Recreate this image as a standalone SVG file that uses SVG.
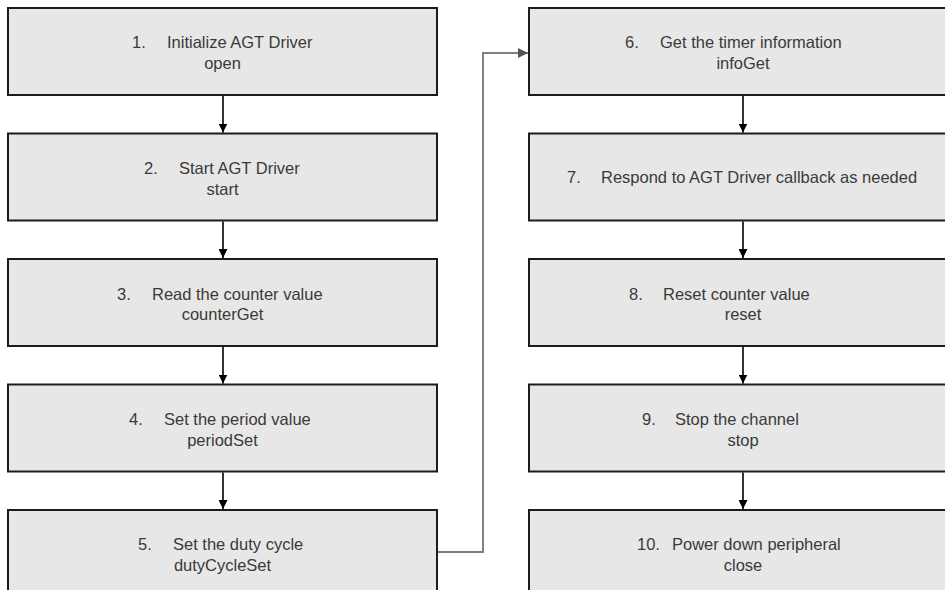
<svg xmlns="http://www.w3.org/2000/svg" width="945" height="590" viewBox="0 0 945 590">
  <style>
    .box { fill: #e7e7e7; stroke: #1c1c1c; stroke-width: 2; }
    .t { font-family: "Liberation Sans", Arial, sans-serif; font-size: 16.5px; fill: #3a3a3a; }
    .c { text-anchor: middle; }
    .flow { stroke: #000; stroke-width: 1.6; fill: none; }
    .jump { stroke: #808080; stroke-width: 2; fill: none; }
  </style>
  <defs>
    <marker id="ah" viewBox="0 0 10 10" refX="10" refY="5" markerWidth="9" markerHeight="9" markerUnits="userSpaceOnUse" orient="auto">
      <path d="M0,0 L10,5 L0,10 Z" fill="#000"/>
    </marker>
    <marker id="ahg" viewBox="0 0 10 10" refX="10" refY="5" markerWidth="10" markerHeight="10" markerUnits="userSpaceOnUse" orient="auto">
      <path d="M0,0 L10,5 L0,10 Z" fill="#555"/>
    </marker>
  </defs>

  <!-- left column -->
  <g id="step1">
    <rect class="box" x="8" y="8" width="429" height="87"/>
    <text class="t" x="132" y="48">1.</text>
    <text class="t" x="167" y="48">Initialize AGT Driver</text>
    <text class="t c" x="222.5" y="69">open</text>
  </g>
  <g id="step2">
    <rect class="box" x="8" y="133.5" width="429" height="87"/>
    <text class="t" x="144" y="173.5">2.</text>
    <text class="t" x="179" y="173.5">Start AGT Driver</text>
    <text class="t c" x="222.5" y="194.5">start</text>
  </g>
  <g id="step3">
    <rect class="box" x="8" y="259" width="429" height="87"/>
    <text class="t" x="117" y="299.5">3.</text>
    <text class="t" x="152" y="299.5">Read the counter value</text>
    <text class="t c" x="222.5" y="320">counterGet</text>
  </g>
  <g id="step4">
    <rect class="box" x="8" y="384.5" width="429" height="87"/>
    <text class="t" x="129" y="424.5">4.</text>
    <text class="t" x="164" y="424.5">Set the period value</text>
    <text class="t c" x="222.5" y="445.5">periodSet</text>
  </g>
  <g id="step5">
    <rect class="box" x="8" y="510" width="429" height="87"/>
    <text class="t" x="138" y="550">5.</text>
    <text class="t" x="173" y="550">Set the duty cycle</text>
    <text class="t c" x="222.5" y="571">dutyCycleSet</text>
  </g>

  <!-- right column -->
  <g id="step6">
    <rect class="box" x="529" y="8" width="428" height="87"/>
    <text class="t" x="625" y="48">6.</text>
    <text class="t" x="660" y="48">Get the timer information</text>
    <text class="t c" x="743" y="69">infoGet</text>
  </g>
  <g id="step7">
    <rect class="box" x="529" y="133.5" width="428" height="87"/>
    <text class="t" x="567" y="183">7.</text>
    <text class="t" x="601" y="183">Respond to AGT Driver callback as needed</text>
  </g>
  <g id="step8">
    <rect class="box" x="529" y="259" width="428" height="87"/>
    <text class="t" x="629" y="299.5">8.</text>
    <text class="t" x="663" y="299.5">Reset counter value</text>
    <text class="t c" x="743" y="320">reset</text>
  </g>
  <g id="step9">
    <rect class="box" x="529" y="384.5" width="428" height="87"/>
    <text class="t" x="642" y="424.5">9.</text>
    <text class="t" x="675" y="424.5">Stop the channel</text>
    <text class="t c" x="743" y="445.5">stop</text>
  </g>
  <g id="step10">
    <rect class="box" x="529" y="510" width="428" height="87"/>
    <text class="t" x="637" y="550">10.</text>
    <text class="t" x="672" y="550">Power down peripheral</text>
    <text class="t c" x="743" y="571">close</text>
  </g>

  <!-- connectors -->
  <g id="connectors">
    <line class="flow" x1="223" y1="96" x2="223" y2="132.5" marker-end="url(#ah)"/>
    <line class="flow" x1="223" y1="221.5" x2="223" y2="258" marker-end="url(#ah)"/>
    <line class="flow" x1="223" y1="347" x2="223" y2="383.5" marker-end="url(#ah)"/>
    <line class="flow" x1="223" y1="472.5" x2="223" y2="509" marker-end="url(#ah)"/>
    <path class="jump" d="M438,552 H483 V53 H528" marker-end="url(#ahg)"/>
    <line class="flow" x1="743" y1="96" x2="743" y2="132.5" marker-end="url(#ah)"/>
    <line class="flow" x1="743" y1="221.5" x2="743" y2="258" marker-end="url(#ah)"/>
    <line class="flow" x1="743" y1="347" x2="743" y2="383.5" marker-end="url(#ah)"/>
    <line class="flow" x1="743" y1="472.5" x2="743" y2="509" marker-end="url(#ah)"/>
  </g>
</svg>
